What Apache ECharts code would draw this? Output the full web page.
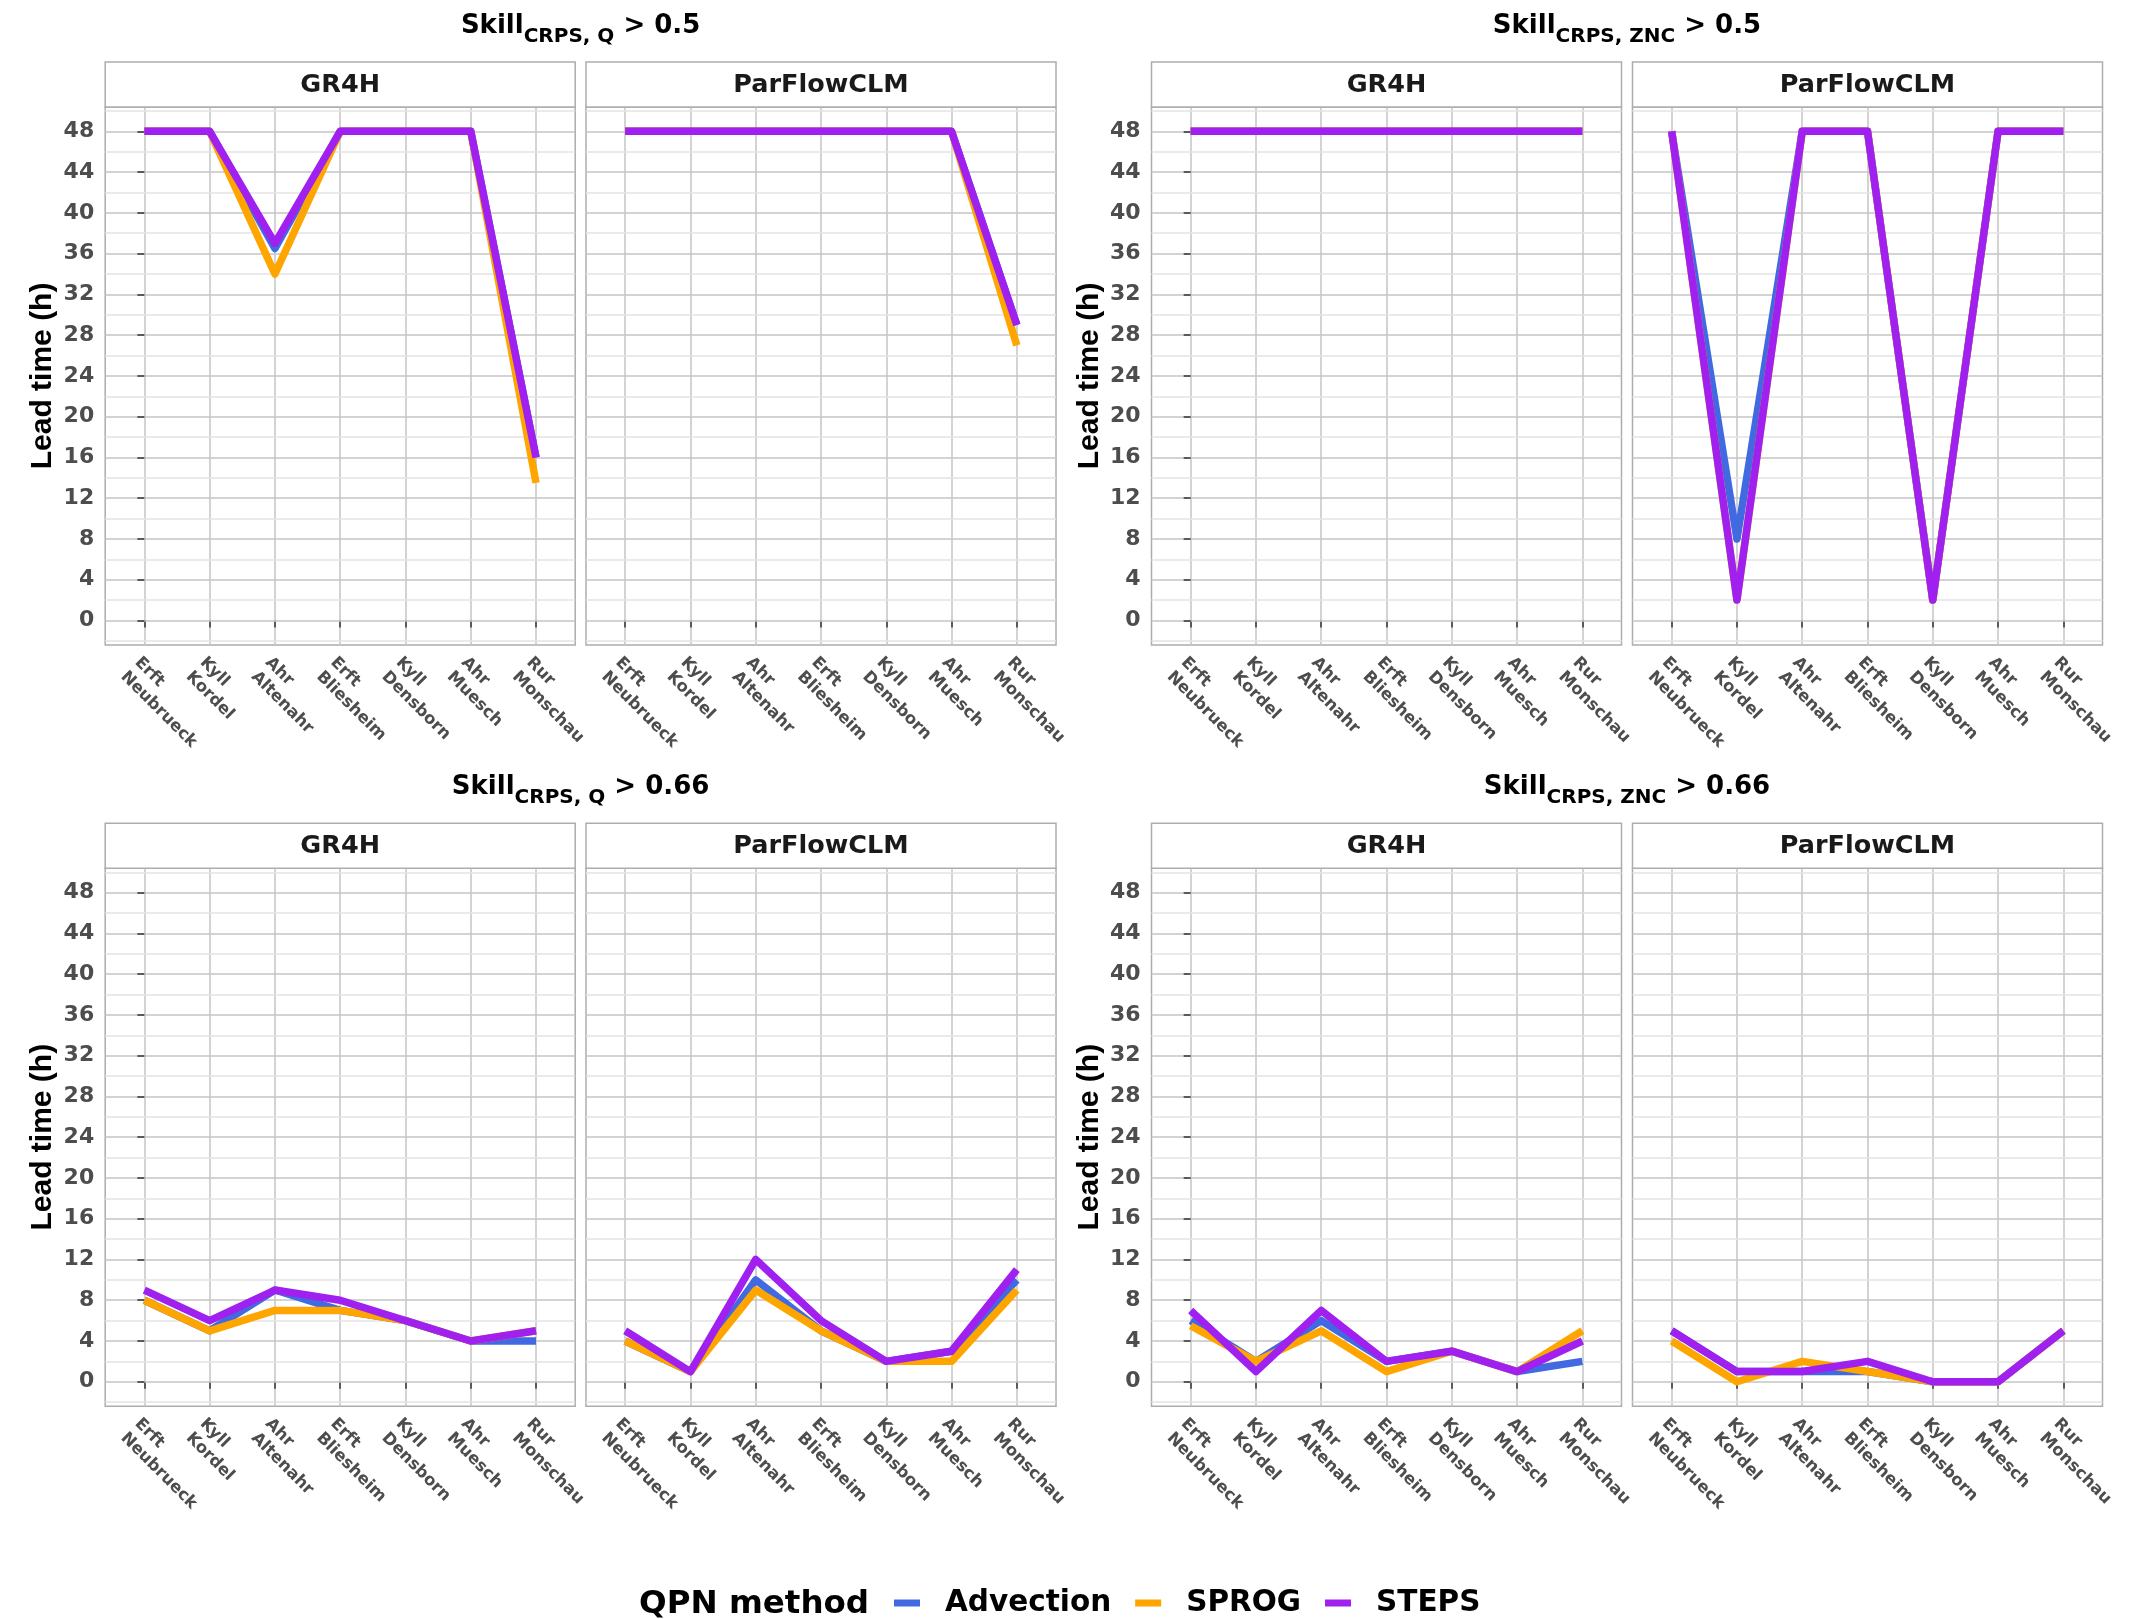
<!DOCTYPE html>
<html><head><meta charset="utf-8">
<script src="https://cdn.jsdelivr.net/npm/echarts@6/dist/echarts.min.js"></script>
<style>html,body{margin:0;padding:0;background:#fff}#c{width:2140px;height:1619px}</style>
</head><body><div id="c"></div>
<script>
// ---------------- data ----------------
const categories = ['Erft\nNeubrueck','Kyll\nKordel','Ahr\nAltenahr','Erft\nBliesheim','Kyll\nDensborn','Ahr\nMuesch','Rur\nMonschau'];
const methods = ['Advection','SPROG','STEPS'];
const methodColors = ['#4169E1','#FFA500','#A020F0'];
const models = ['GR4H','ParFlowCLM'];
const yTicks = [0,4,8,12,16,20,24,28,32,36,40,44,48];
const yMinorTicks = [-2,2,6,10,14,18,22,26,30,34,38,42,46,50];

// Skill CRPS,Q > 0.5
const q05_gr4h_advection = [48,48,36.5,48,48,48,16];
const q05_gr4h_sprog     = [48,48,34,48,48,48,13.5];
const q05_gr4h_steps     = [48,48,37,48,48,48,16];
const q05_pf_advection   = [48,48,48,48,48,48,29];
const q05_pf_sprog       = [48,48,48,48,48,48,27];
const q05_pf_steps       = [48,48,48,48,48,48,29];
// Skill CRPS,ZNC > 0.5
const znc05_gr4h_advection = [48,48,48,48,48,48,48];
const znc05_gr4h_sprog     = [48,48,48,48,48,48,48];
const znc05_gr4h_steps     = [48,48,48,48,48,48,48];
const znc05_pf_advection   = [48,8,48,48,2,48,48];
const znc05_pf_sprog       = [48,2,48,48,2,48,48];
const znc05_pf_steps       = [48,2,48,48,2,48,48];
// Skill CRPS,Q > 0.66
const q066_gr4h_advection = [8,5,9,7,6,4,4];
const q066_gr4h_sprog     = [8,5,7,7,6,4,5];
const q066_gr4h_steps     = [9,6,9,8,6,4,5];
const q066_pf_advection   = [4,1,10,5,2,3,10];
const q066_pf_sprog       = [4,1,9,5,2,2,9];
const q066_pf_steps       = [5,1,12,6,2,3,11];
// Skill CRPS,ZNC > 0.66
const znc066_gr4h_advection = [6,2,6,2,3,1,2];
const znc066_gr4h_sprog     = [5.5,2,5,1,3,1,5];
const znc066_gr4h_steps     = [7,1,7,2,3,1,4];
const znc066_pf_advection   = [5,1,1,1,0,0,5];
const znc066_pf_sprog       = [4,0,2,1,0,0,5];
const znc066_pf_steps       = [5,1,1,2,0,0,5];

const groupTitles = [
  {main:'Skill', sub:'CRPS, Q', rest:' > 0.5'},
  {main:'Skill', sub:'CRPS, ZNC', rest:' > 0.5'},
  {main:'Skill', sub:'CRPS, Q', rest:' > 0.66'},
  {main:'Skill', sub:'CRPS, ZNC', rest:' > 0.66'}
];
const panelData = [
  [q05_gr4h_advection, q05_gr4h_sprog, q05_gr4h_steps],
  [q05_pf_advection, q05_pf_sprog, q05_pf_steps],
  [znc05_gr4h_advection, znc05_gr4h_sprog, znc05_gr4h_steps],
  [znc05_pf_advection, znc05_pf_sprog, znc05_pf_steps],
  [q066_gr4h_advection, q066_gr4h_sprog, q066_gr4h_steps],
  [q066_pf_advection, q066_pf_sprog, q066_pf_steps],
  [znc066_gr4h_advection, znc066_gr4h_sprog, znc066_gr4h_steps],
  [znc066_pf_advection, znc066_pf_sprog, znc066_pf_steps]
];

// ---------------- layout ----------------
const FF = "'DejaVu Sans', sans-serif";
const colX = [105.2, 586, 1151.5, 1632.5];
const rowY = [106.9, 868.2];
const PW = 470, PH = 538, STRIP_H = 45;
const MAJOR = '#c4c4c4', MINOR = '#e3e3e3', BORDER = '#adadad';
const xIdx = categories.map((c,i)=>i);

const grids = [], xAxes = [], yAxes = [], series = [], graphics = [];
for (let p = 0; p < 8; p++) {
  const row = Math.floor(p/4), col = p % 4;
  const isLeft = (col % 2 === 0);
  grids.push({left: colX[col], top: rowY[row], width: PW, height: PH, show: true,
    borderColor: BORDER, borderWidth: 1.5, backgroundColor: 'rgba(0,0,0,0)', containLabel: false, outerBoundsMode: 'none'});
  xAxes.push({type:'value', gridIndex:p, min:-0.6, max:6.6,
    axisLine:{show:false},
    axisTick:{show:true, length:7, customValues:xIdx, lineStyle:{color:'#333', width:1.5}},
    axisLabel:{customValues:xIdx, formatter:v=>categories[Math.round(v)], rotate:-45, align:'left', verticalAlign:'top',
      margin:8, color:'#4d4d4d', fontFamily:FF, fontWeight:'bold', fontSize:16.5, lineHeight:20},
    splitLine:{show:true, lineStyle:{color:MAJOR, width:1.5}}});
  yAxes.push({type:'value', gridIndex:p, min:-2.4, max:50.4, position:'left', z:3,
    axisLine:{show:false},
    axisTick:{show:isLeft, length:7, customValues:yTicks, lineStyle:{color:'#333', width:1.5}},
    axisLabel:{show:isLeft, customValues:yTicks, margin:11, color:'#4d4d4d', fontFamily:FF, fontWeight:'bold', fontSize:22},
    splitLine:{show:true, lineStyle:{color:MAJOR, width:1.6}},
    name: isLeft ? 'Lead time (h)' : '', nameLocation:'middle', nameGap:47, nameRotate:90,
    nameTextStyle:{color:'#000', fontFamily:"'Liberation Sans', sans-serif", fontWeight:'bold', fontSize:30}});
  yAxes.push({type:'value', gridIndex:p, min:-2.4, max:50.4, position:'left', z:1,
    axisLine:{show:false},
    axisTick:{show:false, customValues:yMinorTicks},
    axisLabel:{show:false},
    splitLine:{show:true, lineStyle:{color:MINOR, width:1.6}}});
  panelData[p].forEach((vals, m) => {
    series.push({type:'line', name:methods[m], xAxisIndex:p, yAxisIndex:2*p,
      data: vals.map((v,i)=>[i,v]), symbol:'none', showSymbol:false, silent:true, animation:false,
      z: 3+m, color: methodColors[m],
      itemStyle:{color:methodColors[m]},
      lineStyle:{width:7.5, color:methodColors[m], join:'round', cap:'butt'}});
  });
  // strip
  const sy = rowY[row] - STRIP_H;
  graphics.push({type:'rect', shape:{x:colX[col], y:sy, width:PW, height:STRIP_H},
    style:{fill:'#fff', stroke:BORDER, lineWidth:1.5}, z:10});
  graphics.push({type:'text', x: colX[col]+PW/2, y: sy+STRIP_H/2+1, z:11,
    style:{text: models[col%2], fill:'#1a1a1a', fontFamily:FF, fontWeight:'bold', fontSize:25.5, align:'center', verticalAlign:'middle'}});
}
// group titles
for (let g = 0; g < 4; g++) {
  const row = Math.floor(g/2), grp = g % 2;
  const cx = (colX[grp*2] + colX[grp*2+1] + PW) / 2;
  const t = groupTitles[g];
  graphics.push({type:'text', x: cx, y: rowY[row] - STRIP_H - 32, z:11,
    style:{text: '{a|'+t.main+'}{b|'+t.sub+'}{a|'+t.rest+'}', align:'center', verticalAlign:'middle',
      rich:{ a:{fontFamily:FF, fontWeight:'bold', fontSize:26, fill:'#000', color:'#000', lineHeight:34, verticalAlign:'top'},
             b:{fontFamily:FF, fontWeight:'bold', fontSize:20, fill:'#000', color:'#000', lineHeight:22, verticalAlign:'bottom'} }}});
}
// legend title
graphics.push({type:'text', x: 639, y: 1605, z:11,
  style:{text:'QPN method', fill:'#000', fontFamily:FF, fontWeight:'bold', fontSize:32.5, align:'left', verticalAlign:'middle'}});

const chart = echarts.init(document.getElementById('c'), null, {renderer:'canvas'});
chart.setOption({
  animation:false,
  backgroundColor:'#fff',
  grid: grids, xAxis: xAxes, yAxis: yAxes, series: series,
  legend:{data: methods, left: 889, top: 1583, orient:'horizontal', icon:'rect', itemWidth:26, itemHeight:7, itemGap:24,
    selectedMode:false,
    textStyle:{color:'#000', fontFamily:FF, fontWeight:'bold', fontSize:29.5, padding:[0,0,0,20]}},
  graphic: graphics
});
</script></body></html>
